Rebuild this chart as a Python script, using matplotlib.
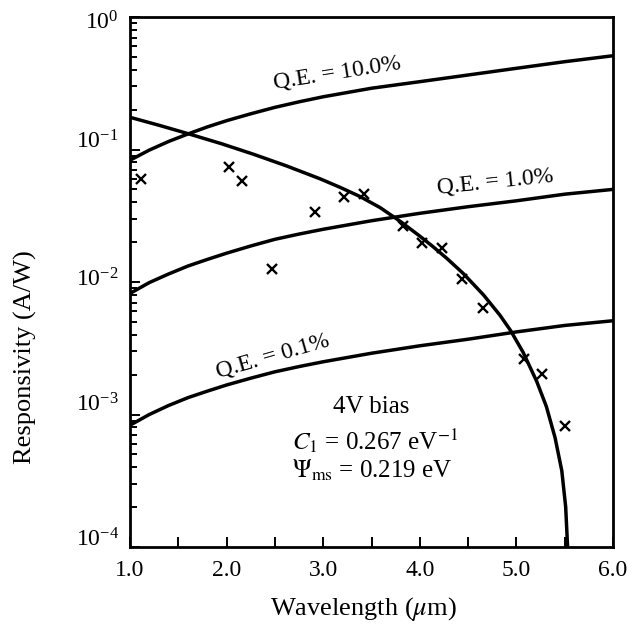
import matplotlib
matplotlib.use("Agg")
import matplotlib.pyplot as plt
from matplotlib.ticker import LogLocator, FixedLocator, NullFormatter
from matplotlib.transforms import ScaledTranslation

plt.rcParams['font.family'] = ['Liberation Serif', 'DejaVu Serif']
plt.rcParams['mathtext.fontset'] = 'stix'

# quantum-efficiency reference lines
qe_x = [1.0, 1.2, 1.4, 1.6, 1.8, 2.0, 2.25, 2.5, 2.75, 3.0, 3.5, 4.0, 4.5, 5.0, 5.5, 6.0]
qe_10 = [0.083, 0.099, 0.115, 0.131, 0.148, 0.165, 0.186, 0.208, 0.229, 0.25,
         0.29, 0.325, 0.365, 0.41, 0.46, 0.51]
qe_1 = [0.0082, 0.0099, 0.0115, 0.0132, 0.0148, 0.0165, 0.0187, 0.021, 0.023, 0.025,
        0.029, 0.033, 0.037, 0.041, 0.046, 0.050]
qe_01 = [0.00083, 0.0010, 0.00117, 0.00134, 0.0015, 0.00167, 0.00188, 0.0021, 0.0023, 0.0025,
         0.0029, 0.0033, 0.0037, 0.0042, 0.0047, 0.0051]

# Fowler fit curve (4V bias)
fit_x = [1.0, 1.3, 1.59, 1.95, 2.28, 2.62, 2.97, 3.18, 3.38, 3.59, 3.80, 4.0, 4.14,
         4.28, 4.45, 4.66, 4.83, 4.94, 5.07, 5.21, 5.31, 5.40, 5.47, 5.51, 5.53]
fit_y = [0.175, 0.1524, 0.1324, 0.1104, 0.092, 0.0752, 0.060, 0.0516, 0.0442, 0.0364,
         0.0286, 0.0222, 0.0184, 0.01507, 0.01159, 0.00798, 0.00561, 0.0043, 0.00294,
         0.00178, 0.00115, 0.00067, 0.000376, 0.000201, 0.0001]

# measured responsivity
meas_x = [1.11, 2.02, 2.16, 2.47, 2.92, 3.22, 3.42, 3.83, 4.02, 4.23, 4.44, 4.65, 5.08, 5.27, 5.50]
meas_y = [0.0596, 0.0735, 0.0578, 0.0125, 0.0336, 0.0441, 0.0461, 0.0266, 0.0196, 0.0179,
          0.0105, 0.0064, 0.00262, 0.00202, 0.00082]

fig = plt.figure(figsize=(6.33, 6.30), dpi=100)
ax = fig.add_axes([130 / 633, 83 / 630, 483 / 633, 530 / 630])

lw = 2.5
ax.plot(qe_x, qe_10, color='black', lw=lw)
ax.plot(qe_x, qe_1, color='black', lw=lw)
ax.plot(qe_x, qe_01, color='black', lw=lw)
ax.plot(fit_x, fit_y, color='black', lw=lw, solid_joinstyle='round')
ax.plot(meas_x, meas_y, linestyle='none', marker='x', color='black', ms=7, mew=1.7)

ax.set_yscale('log')
ax.set_xlim(1.0, 6.0)
ax.set_ylim(1e-4, 1.0)

ax.xaxis.set_major_locator(FixedLocator([1, 2, 3, 4, 5, 6]))
ax.xaxis.set_minor_locator(FixedLocator([1.5, 2.5, 3.5, 4.5, 5.5]))
ax.set_xticklabels(['1.0', '2.0', '3.0', '4.0', '5.0', '6.0'])
ax.yaxis.set_major_locator(LogLocator(base=10, numticks=10))
ax.yaxis.set_minor_locator(LogLocator(base=10, subs=range(2, 10), numticks=20))
ax.yaxis.set_minor_formatter(NullFormatter())

ax.tick_params(axis='both', which='both', direction='in', labelsize=17,
               top=False, right=False, width=1.4, color='black')
ax.tick_params(axis='x', which='both', length=7, pad=9)
ax.tick_params(axis='y', which='major', length=7, pad=8)
ax.tick_params(axis='y', which='minor', length=5)
for s in ax.spines.values():
    s.set_linewidth(2.0)

# the printed decade labels sit a little above their ticks
fig.canvas.draw()
shifts = {1.0: -3, 0.1: 10, 0.01: 5, 0.001: 12, 0.0001: 10}
for tick in ax.yaxis.get_major_ticks():
    v = tick.get_loc()
    for key, px in shifts.items():
        if abs(v - key) / key < 1e-6:
            lab = tick.label1
            lab.set_transform(lab.get_transform() +
                              ScaledTranslation(0, px / 100, fig.dpi_scale_trans))

ax.set_xlabel(r'Wavelength ($\mu$m)', fontsize=19, va='center')
ax.xaxis.set_label_coords(233 / 483, -62 / 530)
ax.set_ylabel('Responsivity (A/W)', fontsize=19, va='center')
ax.yaxis.set_label_coords(-105 / 483, 190 / 530)

ax.text(3.14, 0.378, 'Q.E. = 10.0%', fontsize=17, rotation=9, ha='center', va='center')
ax.text(4.78, 0.0569, 'Q.E. = 1.0%', fontsize=17, rotation=6, ha='center', va='center')
ax.text(2.48, 0.00277, 'Q.E. = 0.1%', fontsize=17, rotation=16, ha='center', va='center')

ax.text(3.50, 0.00114, '4V bias', fontsize=18, ha='center', va='center')
ax.text(3.54, 0.00063, r'$C_1$ = 0.267 eV$^{-1}$', fontsize=18, ha='center', va='center')
ax.text(3.51, 0.00038, r'$\Psi_{\rm ms}$ = 0.219 eV', fontsize=18, ha='center', va='center')

fig.savefig('out.png', dpi=100)
